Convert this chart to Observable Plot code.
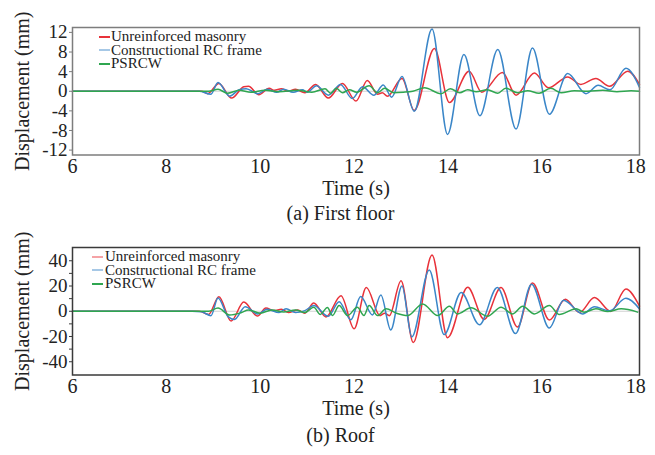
<!DOCTYPE html>
<html><head><meta charset="utf-8">
<script src="https://cdn.jsdelivr.net/npm/d3@7"></script>
<script src="https://cdn.jsdelivr.net/npm/@observablehq/plot@0.6"></script>
<style>
body{margin:0;background:#fff;font-family:"Liberation Serif","Times New Roman",serif;}
#root{position:relative;width:655px;height:455px;overflow:hidden;background:#fff;}
.panel{position:absolute;left:0;}
.cap{position:absolute;left:13px;width:655px;text-align:center;font-size:20px;line-height:20px;color:#222;}
.legend{position:absolute;font-size:15px;line-height:13.5px;color:#222;}
.legend .row{display:flex;align-items:center;height:13.5px;white-space:nowrap;}
.legend .sw{display:inline-block;width:11px;height:1.6px;margin-right:1px;}
</style></head><body><div id="root"></div>
<script>
// ---- categories / labels ----
const seriesNames = ["Unreinforced masonry", "Constructional RC frame", "PSRCW"];
const seriesColors = ["#e8323a", "#3a86c8", "#2fa650"];
const xTicks = [6, 8, 10, 12, 14, 16, 18];
const yTicksFloor = [-12, -8, -4, 0, 4, 8, 12];
const yTicksRoof = [-40, -20, 0, 20, 40];
const yMinorRoof = [-30, -10, 10, 30];
const captions = ["(a) First floor", "(b) Roof"];

// ---- (a) First floor: [time s, displacement mm] ----
const floorURM = [[6,0],[8.75,0],[8.88,-0.5],[9.12,1.6],[9.39,-1.4],[9.65,0.9],[9.75,1.0],[9.97,-0.7],[10.19,0.6],[10.3,0.2],[10.45,0.5],[10.6,0.0],[10.75,0.4],[10.95,-0.3],[11.18,1.4],[11.45,-1.4],[11.75,1.6],[12.04,-2.0],[12.28,2.2],[12.5,-0.6],[12.6,-0.3],[12.71,-1.0],[13.02,2.6],[13.28,-3.9],[13.71,8.7],[14.03,-2.3],[14.45,4.1],[14.72,-0.2],[15.16,3.8],[15.45,-0.8],[15.84,3.7],[16.14,0.7],[16.55,2.9],[16.83,1.4],[17.15,2.6],[17.44,1.0],[17.83,4.1],[18.08,1.4]];
const floorRC = [[6,0],[8.7,0],[8.95,-0.6],[9.1,1.8],[9.35,-1.0],[9.55,0.3],[9.7,0.5],[9.95,-0.5],[10.15,0.4],[10.35,-0.2],[10.5,0.4],[10.7,-0.2],[10.9,0.3],[11.0,-0.2],[11.2,1.1],[11.45,-0.8],[11.71,1.4],[11.96,-1.5],[12.18,0.9],[12.42,-0.8],[12.62,1.3],[12.8,-1.2],[13.02,3.0],[13.28,-4.1],[13.66,12.7],[13.99,-8.8],[14.34,7.5],[14.68,-5.0],[15.06,8.5],[15.45,-7.7],[15.8,8.8],[16.16,-4.7],[16.55,3.6],[16.94,-0.5],[17.2,1.2],[17.45,0.3],[17.79,4.7],[18.08,0.8]];
const floorPSRCW = [[6,0],[8.9,0],[9.1,0.4],[9.3,-0.4],[9.55,0.2],[9.8,-0.2],[10.1,0.2],[10.4,-0.1],[10.8,0.2],[11.1,-0.2],[11.38,0.5],[11.5,-0.4],[11.62,0.6],[11.75,-0.3],[11.9,0.3],[12.05,-0.2],[12.32,1.1],[12.5,-0.3],[12.65,0.6],[12.85,-0.3],[13.05,-0.2],[13.25,0.0],[13.5,0.7],[13.85,-0.5],[14.05,0.5],[14.25,-0.3],[14.42,0.3],[14.6,-0.1],[14.84,0.3],[15.06,-0.4],[15.23,0.6],[15.48,-0.3],[15.7,0.1],[15.94,-0.4],[16.19,0.6],[16.41,-0.3],[16.69,0.1],[16.98,0.0],[17.3,0.2],[17.6,-0.1],[17.9,0.1],[18.08,0.0]];

// ---- (b) Roof: [time s, displacement mm] ----
const roofURM = [[6,0],[8.7,0],[8.9,-2.5],[9.12,11.5],[9.38,-7.8],[9.65,7.3],[9.94,-3.8],[10.12,2.5],[10.3,0.5],[10.45,1.5],[10.6,-1.0],[10.8,1.0],[10.95,-1.5],[11.14,6.5],[11.4,-4.5],[11.72,12.3],[12.0,-13.8],[12.26,18.8],[12.55,-3.5],[12.65,-1.5],[12.75,-3.5],[13.0,24.1],[13.26,-24.8],[13.66,44.5],[13.99,-21.0],[14.42,19.0],[14.77,-6.5],[15.13,18.8],[15.48,-12.5],[15.8,22.3],[16.16,-7.0],[16.5,9.5],[16.8,-1.0],[17.12,10.8],[17.47,-0.2],[17.79,17.6],[18.08,4.0]];
const roofRC = [[6,0],[8.55,0],[8.75,-0.5],[8.95,-3.5],[9.1,10.5],[9.32,-4.5],[9.45,-6.5],[9.68,3.5],[9.95,-2.2],[10.15,1.5],[10.4,-1.0],[10.55,2.0],[10.75,-1.0],[10.95,0.5],[11.14,4.5],[11.45,-4.0],[11.68,7.6],[11.93,-6.8],[12.14,11.6],[12.39,-2.9],[12.57,12.8],[12.78,-14.8],[13.02,20.1],[13.23,-20.3],[13.6,32.7],[13.92,-18.5],[14.28,14.9],[14.67,-10.7],[15.05,18.8],[15.44,-17.7],[15.78,21.4],[16.16,-13.3],[16.46,8.8],[16.87,-2.1],[17.12,3.5],[17.44,0.3],[17.79,10.2],[18.08,1.8]];
const roofPSRCW = [[6,0],[8.9,0],[9.1,2.5],[9.35,-3.0],[9.6,-1.0],[9.75,1.0],[10.0,-1.5],[10.25,1.0],[10.5,-0.5],[10.75,1.0],[10.95,-1.0],[11.14,3.1],[11.28,-2.5],[11.43,3.0],[11.54,-3.4],[11.68,4.5],[11.86,-3.4],[12.07,3.2],[12.21,-3.4],[12.32,4.5],[12.5,-3.4],[12.68,1.9],[12.9,-1.5],[13.14,-3.4],[13.46,5.8],[13.78,-3.4],[14.03,3.9],[14.2,-2.1],[14.49,2.7],[14.84,-3.9],[15.13,3.2],[15.38,-2.1],[15.59,3.9],[15.84,-2.1],[16.16,4.5],[16.37,-2.6],[16.73,1.9],[16.9,-0.7],[17.15,1.9],[17.4,-0.2],[17.69,1.9],[18.04,-0.7]];

const root = document.getElementById("root");
const serif = '"Liberation Serif", "Times New Roman", serif';

function makePanel(cfg) {
  const lines = cfg.series.map((s, i) => Plot.line(s, {
    x: d => d[0], y: d => d[1], stroke: seriesColors[i], strokeWidth: 1.5, curve: "monotone-x"
  }));
  const marks = [
    Plot.ruleY([0], {stroke: "#d2d2d2", strokeWidth: 1.2}),
    ...lines,
    Plot.frame({stroke: cfg.frameColor, strokeWidth: 1.5}),
    Plot.axisY({ticks: cfg.yTicks, tickSize: 3, tickPadding: 2, label: null, fontSize: 19,
      stroke: cfg.frameColor, tickFormat: d => String(d), fontFamily: serif}),
    Plot.axisX({ticks: xTicks, tickSize: 0, tickPadding: 4, label: null, fontSize: 20,
      tickFormat: d => String(d), fontFamily: serif}),
    Plot.text(["Displacement (mm)"], {text: d => d, frameAnchor: "left", dx: -50, rotate: -90,
      textAnchor: "middle", lineAnchor: "middle", fontSize: 20, fontFamily: serif}),
    Plot.text(["Time (s)"], {text: d => d, frameAnchor: "bottom", dy: 34,
      textAnchor: "middle", lineAnchor: "middle", fontSize: 20, fontFamily: serif})
  ];
  if (cfg.yMinor) marks.push(Plot.axisY({ticks: cfg.yMinor, tickSize: 3, tickFormat: () => "", label: null, stroke: cfg.frameColor}));
  const svg = Plot.plot({
    width: 655, height: 200,
    marginLeft: 72, marginRight: 16, marginTop: 27, marginBottom: 45.5,
    x: {domain: [6, 18.08]},
    y: {domain: cfg.yDomain},
    style: {fontFamily: serif, color: "#222", background: "transparent", overflow: "visible"},
    marks
  });
  const wrap = document.createElement("div");
  wrap.className = "panel";
  wrap.style.top = cfg.top + "px";
  wrap.appendChild(svg);
  root.appendChild(wrap);

  const leg = document.createElement("div");
  leg.className = "legend";
  leg.style.left = cfg.legLeft + "px";
  leg.style.top = (cfg.top + cfg.legTop) + "px";
  seriesNames.forEach((n, i) => {
    const row = document.createElement("div");
    row.className = "row";
    const sw = document.createElement("span");
    sw.className = "sw";
    sw.style.background = seriesColors[i];
    sw.style.opacity = cfg.legOpacity[i];
    sw.style.marginRight = cfg.legGap + "px";
    const tx = document.createElement("span");
    tx.textContent = n;
    row.appendChild(sw); row.appendChild(tx);
    leg.appendChild(row);
  });
  root.appendChild(leg);

  const cap = document.createElement("div");
  cap.className = "cap";
  cap.style.top = (cfg.top + cfg.capTop) + "px";
  cap.textContent = cfg.caption;
  root.appendChild(cap);
}

makePanel({top: 0, series: [floorURM, floorRC, floorPSRCW], yDomain: [-13, 13], yTicks: yTicksFloor,
  frameColor: "#7d7d7d", legLeft: 99, legTop: 30, legGap: 1, legOpacity: [1, 0.45, 1], caption: captions[0], capTop: 203});
makePanel({top: 220, series: [roofURM, roofRC, roofPSRCW], yDomain: [-50.5, 50.5], yTicks: yTicksRoof, yMinor: yMinorRoof,
  frameColor: "#3a3a3a", legLeft: 92, legTop: 30, legGap: 2, legOpacity: [0.45, 0.45, 1], caption: captions[1], capTop: 205});
</script></body></html>
